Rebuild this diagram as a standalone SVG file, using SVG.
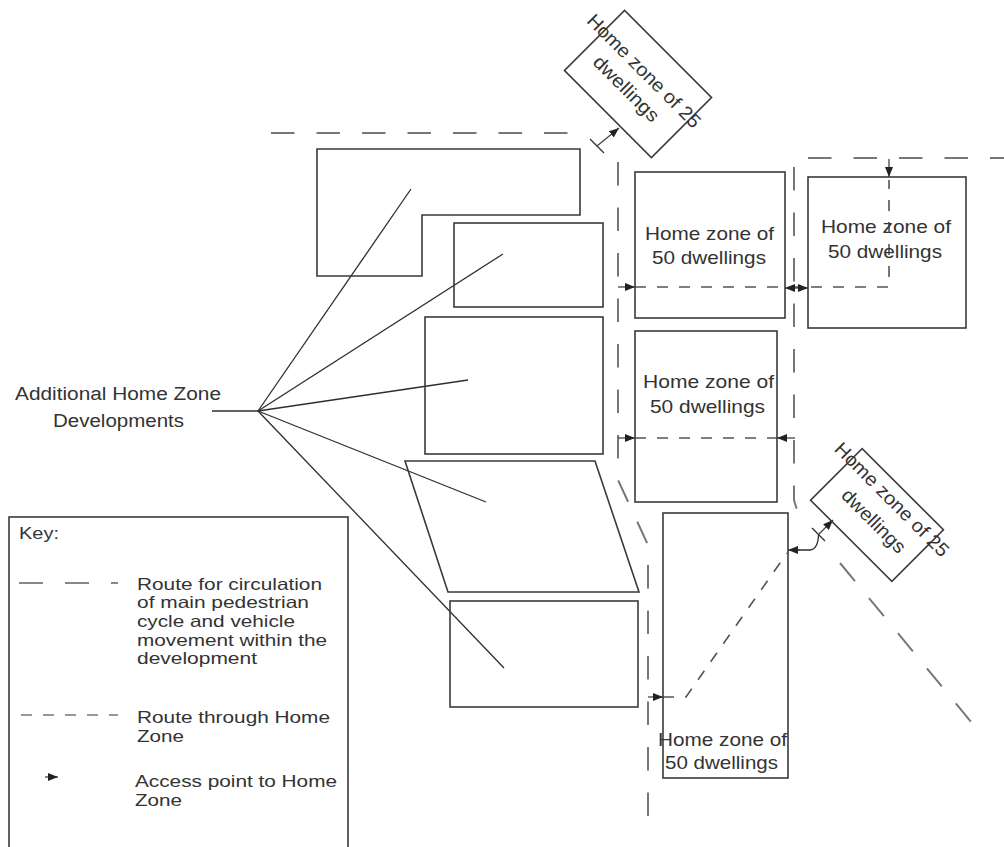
<svg xmlns="http://www.w3.org/2000/svg" width="1004" height="847" viewBox="0 0 1004 847">
<style>
.bld{fill:none;stroke:#3a3a3a;stroke-width:1.6}
.hz{fill:none;stroke:#3a3a3a;stroke-width:1.6}
.lead{fill:none;stroke:#2e2e2e;stroke-width:1.3}
.main{fill:none;stroke:#777;stroke-width:2;stroke-dasharray:23.5 22}
.hzr{fill:none;stroke:#555;stroke-width:1.6;stroke-dasharray:11 11}
.acc{fill:none;stroke:#444;stroke-width:1.3;marker-end:url(#ah)}
.t{font-family:"Liberation Sans",Arial,sans-serif;fill:#333}
.tb{font-size:19px}
.tk{font-size:16.5px}
</style>
<defs>
<marker id="ah" markerUnits="userSpaceOnUse" markerWidth="10" markerHeight="8" refX="10" refY="4" orient="auto">
<path d="M0,0 L10,4 L0,8 z" fill="#222"/>
</marker>
</defs>
<rect width="1004" height="847" fill="#fff"/>

<g id="connectors">
<!-- main circulation routes -->
<path class="main" d="M271,133 H570"/>
<path class="main" d="M808,158 H1004"/>
<path class="main" d="M618,162 V480 L648,545 V825"/>
<path class="main" d="M794,167 V500 L797,510"/>
<path class="main" d="M840,563 L972,723"/>
<!-- routes through home zones -->
<path class="hzr" d="M635,287 H889 V180"/>
<path class="hzr" d="M635,438 H777"/>
<path class="hzr" d="M663,697 H686 L787,553"/>
<path class="lead" d="M798,550 H810 Q818,549 818.5,535"/>
<!-- access bars -->
<path class="lead" d="M590,139 L604,153"/>
<path class="lead" d="M812,528 L825,541"/>
<!-- access points -->
<path class="acc" d="M618,287 H635"/>
<path class="acc" d="M797,288 H785"/>
<path class="acc" d="M797,288 H808"/>
<path class="acc" d="M889,159 V177"/>
<path class="acc" d="M618,438 H635"/>
<path class="acc" d="M795,438 H777"/>
<path class="acc" d="M648,697 H663"/>
<path class="acc" d="M800,550 H788"/>
<path class="acc" d="M597,146 L619,128"/>
<path class="acc" d="M818.5,534.5 L833,520"/>
<!-- leader lines -->
<path class="lead" d="M212,411 H258"/>
<path class="lead" d="M258,411 L411,189"/>
<path class="lead" d="M258,411 L503,254"/>
<path class="lead" d="M258,411 L468,380"/>
<path class="lead" d="M258,411 L486,502"/>
<path class="lead" d="M258,411 L504,668"/>
</g>

<g id="dev1"><path class="bld" d="M317,149 H580 V215 H422 V276 H317 Z"/></g>
<g id="dev2"><rect class="bld" x="454" y="223" width="149" height="84"/></g>
<g id="dev3"><rect class="bld" x="425" y="317" width="178" height="137"/></g>
<g id="dev4"><path class="bld" d="M405,461 H595 L639,592 H448 Z"/></g>
<g id="dev5"><rect class="bld" x="450" y="601" width="188" height="106"/></g>

<g id="label-additional">
<text class="t" font-size="18" x="15" y="400" textLength="206" lengthAdjust="spacingAndGlyphs">Additional Home Zone</text>
<text class="t" font-size="18" x="53" y="427" textLength="131" lengthAdjust="spacingAndGlyphs">Developments</text>
</g>

<g id="hz-a">
<rect class="hz" x="635" y="172" width="150" height="146"/>
<text class="t tb" x="645" y="240" textLength="129" lengthAdjust="spacingAndGlyphs">Home zone of</text>
<text class="t tb" x="652" y="264" textLength="114" lengthAdjust="spacingAndGlyphs">50 dwellings</text>
</g>
<g id="hz-b">
<rect class="hz" x="808" y="177" width="158" height="151"/>
<text class="t tb" x="821" y="233" textLength="130" lengthAdjust="spacingAndGlyphs">Home zone of</text>
<text class="t tb" x="828" y="258" textLength="114" lengthAdjust="spacingAndGlyphs">50 dwellings</text>
</g>
<g id="hz-c">
<rect class="hz" x="635" y="331" width="142" height="171"/>
<text class="t tb" x="643" y="388" textLength="131" lengthAdjust="spacingAndGlyphs">Home zone of</text>
<text class="t tb" x="650" y="413" textLength="115" lengthAdjust="spacingAndGlyphs">50 dwellings</text>
</g>
<g id="hz-d">
<rect class="hz" x="663" y="513" width="125" height="265"/>
<text class="t tb" x="658" y="746" textLength="129" lengthAdjust="spacingAndGlyphs">Home zone of</text>
<text class="t tb" x="665" y="769" textLength="113" lengthAdjust="spacingAndGlyphs">50 dwellings</text>
</g>
<g id="hz25-top" transform="translate(638,84) rotate(45)">
<rect class="hz" x="-61.5" y="-42.5" width="123" height="85"/>
<text class="t tb" x="-81" y="-7" textLength="152" lengthAdjust="spacingAndGlyphs">Home zone of 25</text>
<text class="t tb" x="-47.5" y="18" textLength="85" lengthAdjust="spacingAndGlyphs">dwellings</text>
</g>
<g id="hz25-bottom" transform="translate(877,515) rotate(45)">
<rect class="hz" x="-57.5" y="-36.5" width="115" height="73"/>
<text class="t tb" x="-77" y="-15" textLength="153" lengthAdjust="spacingAndGlyphs">Home zone of 25</text>
<text class="t tb" x="-39" y="13" textLength="82" lengthAdjust="spacingAndGlyphs">dwellings</text>
</g>

<g id="key">
<rect x="9" y="517" width="339" height="340" fill="none" stroke="#3a3a3a" stroke-width="1.6"/>
<text class="t tk" x="19" y="539" textLength="40" lengthAdjust="spacingAndGlyphs">Key:</text>
<path d="M19,583 H118" fill="none" stroke="#888" stroke-width="2" stroke-dasharray="24 22"/>
<text class="t tk" x="137" y="590" textLength="185" lengthAdjust="spacingAndGlyphs">Route for circulation</text>
<text class="t tk" x="137" y="608" textLength="172" lengthAdjust="spacingAndGlyphs">of main pedestrian</text>
<text class="t tk" x="137" y="627" textLength="158" lengthAdjust="spacingAndGlyphs">cycle and vehicle</text>
<text class="t tk" x="137" y="646" textLength="190" lengthAdjust="spacingAndGlyphs">movement within the</text>
<text class="t tk" x="137" y="664" textLength="120" lengthAdjust="spacingAndGlyphs">development</text>
<path d="M21,715 H118" fill="none" stroke="#777" stroke-width="1.6" stroke-dasharray="11 11"/>
<text class="t tk" x="137" y="723" textLength="193" lengthAdjust="spacingAndGlyphs">Route through Home</text>
<text class="t tk" x="137" y="742" textLength="47" lengthAdjust="spacingAndGlyphs">Zone</text>
<path class="acc" d="M45,777 H58"/>
<text class="t tk" x="135" y="787" textLength="202" lengthAdjust="spacingAndGlyphs">Access point to Home</text>
<text class="t tk" x="135" y="806" textLength="47" lengthAdjust="spacingAndGlyphs">Zone</text>
</g>
</svg>
